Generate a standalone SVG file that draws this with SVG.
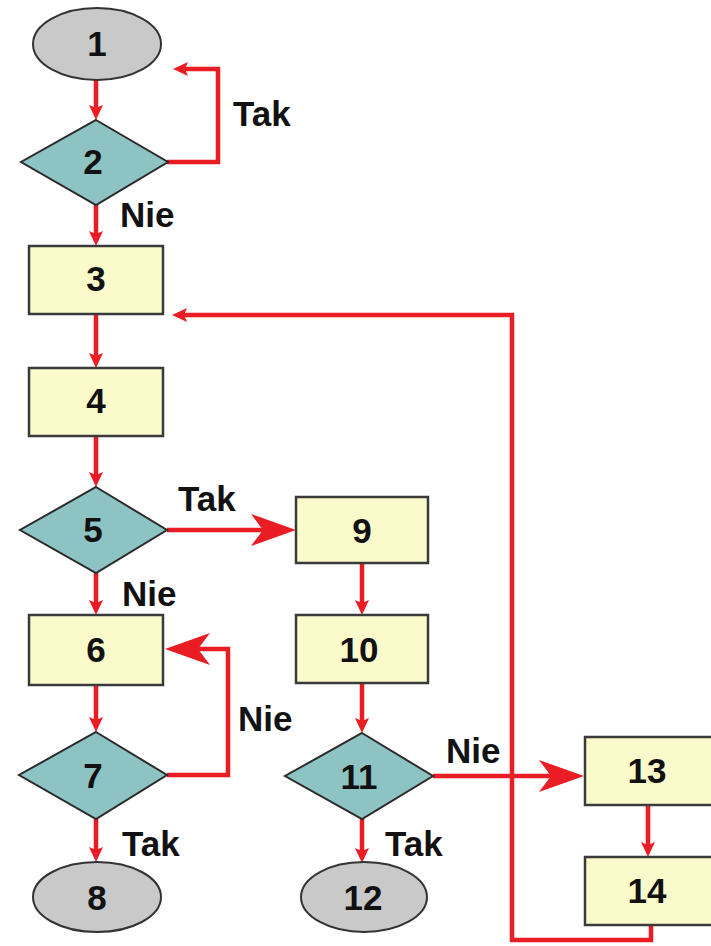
<svg xmlns="http://www.w3.org/2000/svg" width="711" height="946" viewBox="0 0 711 946">
<style>
.box{fill:#fbfacb;stroke:#3a3a3a;stroke-width:2.5}
.dia{fill:#8ec3c3;stroke:#2a2a2a;stroke-width:2}
.term{fill:#c9c9c9;stroke:#333;stroke-width:2}
.num{font-family:"Liberation Sans",Arial,sans-serif;font-weight:bold;font-size:35px;fill:#111;text-anchor:middle}
.lbl{font-family:"Liberation Sans",Arial,sans-serif;font-weight:bold;font-size:35px;fill:#111}
.c{fill:none;stroke:#ea1c24;stroke-width:4.5}
.cs{marker-end:url(#sa)}
.cb{marker-end:url(#ba)}
</style>
<defs>
<marker id="sa" markerUnits="userSpaceOnUse" viewBox="-20 -20 40 40" markerWidth="40" markerHeight="40" refX="0" refY="0" orient="auto" overflow="visible">
<path d="M-7,-7 L8,0 L-7,7 L-4,0 Z" fill="#ea1c24"/>
</marker>
<marker id="ba" markerUnits="userSpaceOnUse" viewBox="-50 -25 70 50" markerWidth="70" markerHeight="50" refX="0" refY="0" orient="auto" overflow="visible">
<path d="M-35,-16 L10,0 L-35,16 L-23,0 Z" fill="#ea1c24"/>
</marker>
</defs>
<g id="connectors">
<path class="c cs" d="M96,80 V112"/>
<path class="c cs" d="M96,205 V238"/>
<path class="c cs" d="M167,162 H218 V69 H181"/>
<path class="c cs" d="M96,314 V360"/>
<path class="c cs" d="M96,436 V479"/>
<path class="c cb" d="M167,530 H286"/>
<path class="c cs" d="M96,573 V607"/>
<path class="c cs" d="M96,685 V724"/>
<path class="c cb" d="M167,775 H228 V649 H175"/>
<path class="c cs" d="M96,819 V854"/>
<path class="c cs" d="M362,563 V607"/>
<path class="c cs" d="M362,683 V725"/>
<path class="c cs" d="M362,819 V855"/>
<path class="c cb" d="M433,776 H574"/>
<path class="c cs" d="M648,805 V849"/>
<path class="c cs" d="M651,925 V940 H512 V315 H180"/>
<text class="lbl" x="233" y="126">Tak</text>
<text class="lbl" x="120" y="227">Nie</text>
<text class="lbl" x="178" y="511">Tak</text>
<text class="lbl" x="122" y="606">Nie</text>
<text class="lbl" x="238" y="731">Nie</text>
<text class="lbl" x="122" y="856">Tak</text>
<text class="lbl" x="446" y="763">Nie</text>
<text class="lbl" x="385" y="856">Tak</text>
</g>
<g id="n1"><ellipse class="term" cx="97" cy="44" rx="64" ry="36"/><text class="num" x="97" y="56">1</text></g>
<g id="n2"><polygon class="dia" points="96,120 168,162 96,205 21,162"/><text class="num" x="93" y="174">2</text></g>
<g id="n3"><rect class="box" x="29" y="246" width="134" height="68"/><text class="num" x="96" y="291">3</text></g>
<g id="n4"><rect class="box" x="29" y="368" width="134" height="68"/><text class="num" x="96" y="413">4</text></g>
<g id="n5"><polygon class="dia" points="96,487 167,530 96,573 20,530"/><text class="num" x="93" y="542">5</text></g>
<g id="n6"><rect class="box" x="29" y="615" width="134" height="70"/><text class="num" x="96" y="662">6</text></g>
<g id="n7"><polygon class="dia" points="96,732 167,775 96,819 19,775"/><text class="num" x="93" y="788">7</text></g>
<g id="n8"><ellipse class="term" cx="97" cy="897" rx="64" ry="35"/><text class="num" x="97" y="910">8</text></g>
<g id="n9"><rect class="box" x="296" y="497" width="132" height="66"/><text class="num" x="362" y="543">9</text></g>
<g id="n10"><rect class="box" x="296" y="615" width="132" height="68"/><text class="num" x="359" y="662">10</text></g>
<g id="n11"><polygon class="dia" points="362,733 433,776 362,819 285,776"/><text class="num" x="359" y="789">11</text></g>
<g id="n12"><ellipse class="term" cx="364" cy="897" rx="63" ry="35"/><text class="num" x="363" y="910">12</text></g>
<g id="n13"><rect class="box" x="585" y="737" width="134" height="68"/><text class="num" x="647" y="783">13</text></g>
<g id="n14"><rect class="box" x="585" y="857" width="134" height="68"/><text class="num" x="647" y="903">14</text></g>
</svg>
